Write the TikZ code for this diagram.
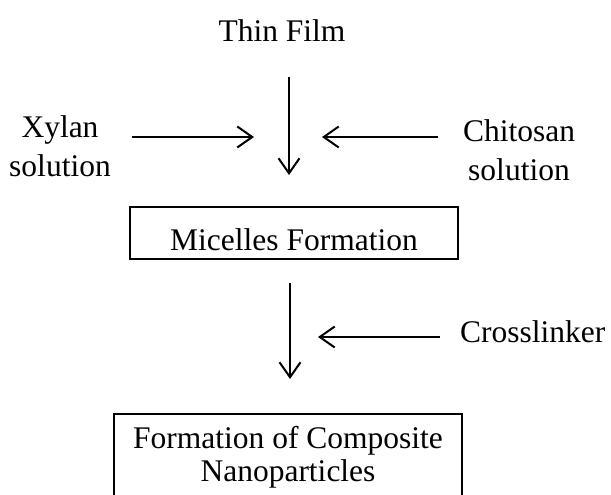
\documentclass[tikz,border=0pt]{standalone}
\usepackage{fontspec}
\setmainfont{Liberation Serif}
\usetikzlibrary{arrows.meta}

\begin{document}
\begin{tikzpicture}[x=1pt,y=-1pt,
  flow/.style={line width=2pt,-{Straight Barb[length=15pt,width=21pt]}},
  stepbox/.style={draw,line width=1.5pt,inner sep=0pt},
  lbl/.style={font=\fontsize{31.5}{33}\selectfont,inner sep=0pt}]
\useasboundingbox (0,0) rectangle (611,495);

% ------------------------------------------------ inputs
\node[lbl,anchor=base] (film) at (282,42) {Thin Film};
\node[lbl,anchor=base,align=center] (xylan) at (60,176) {Xylan\\[6pt]solution};
\node[lbl,anchor=base,align=center] (chitosan) at (519,180) {Chitosan\\[6pt]solution};
\node[lbl,anchor=base west] (cross) at (460,342) {Crosslinker};

% ------------------------------------------------ steps
\node[stepbox,lbl,anchor=north,minimum width=328pt,text height=44pt,text depth=8pt] (micelles) at (294,206) {Micelles Formation};
\node[stepbox,lbl,anchor=north,align=center,minimum width=348pt,inner ysep=13pt] (nano) at (288,413) {Formation of Composite\\Nanoparticles};

% ------------------------------------------------ arrows
\coordinate (top1) at (289,77);  \coordinate (tip1) at (289,175);
\coordinate (xyl) at (132,137);  \coordinate (xyltip) at (254,137);
\coordinate (chi) at (438,137);  \coordinate (chitip) at (322,137);
\coordinate (top2) at (290,283); \coordinate (tip2) at (290,379);
\coordinate (crs) at (440,337);  \coordinate (crstip) at (318,337);

\draw[flow] (top1) -- (tip1);
\draw[flow] (xyl) -- (xyltip);
\draw[flow] (chi) -- (chitip);
\draw[flow] (top2) -- (tip2);
\draw[flow] (crs) -- (crstip);

\end{tikzpicture}
\end{document}
